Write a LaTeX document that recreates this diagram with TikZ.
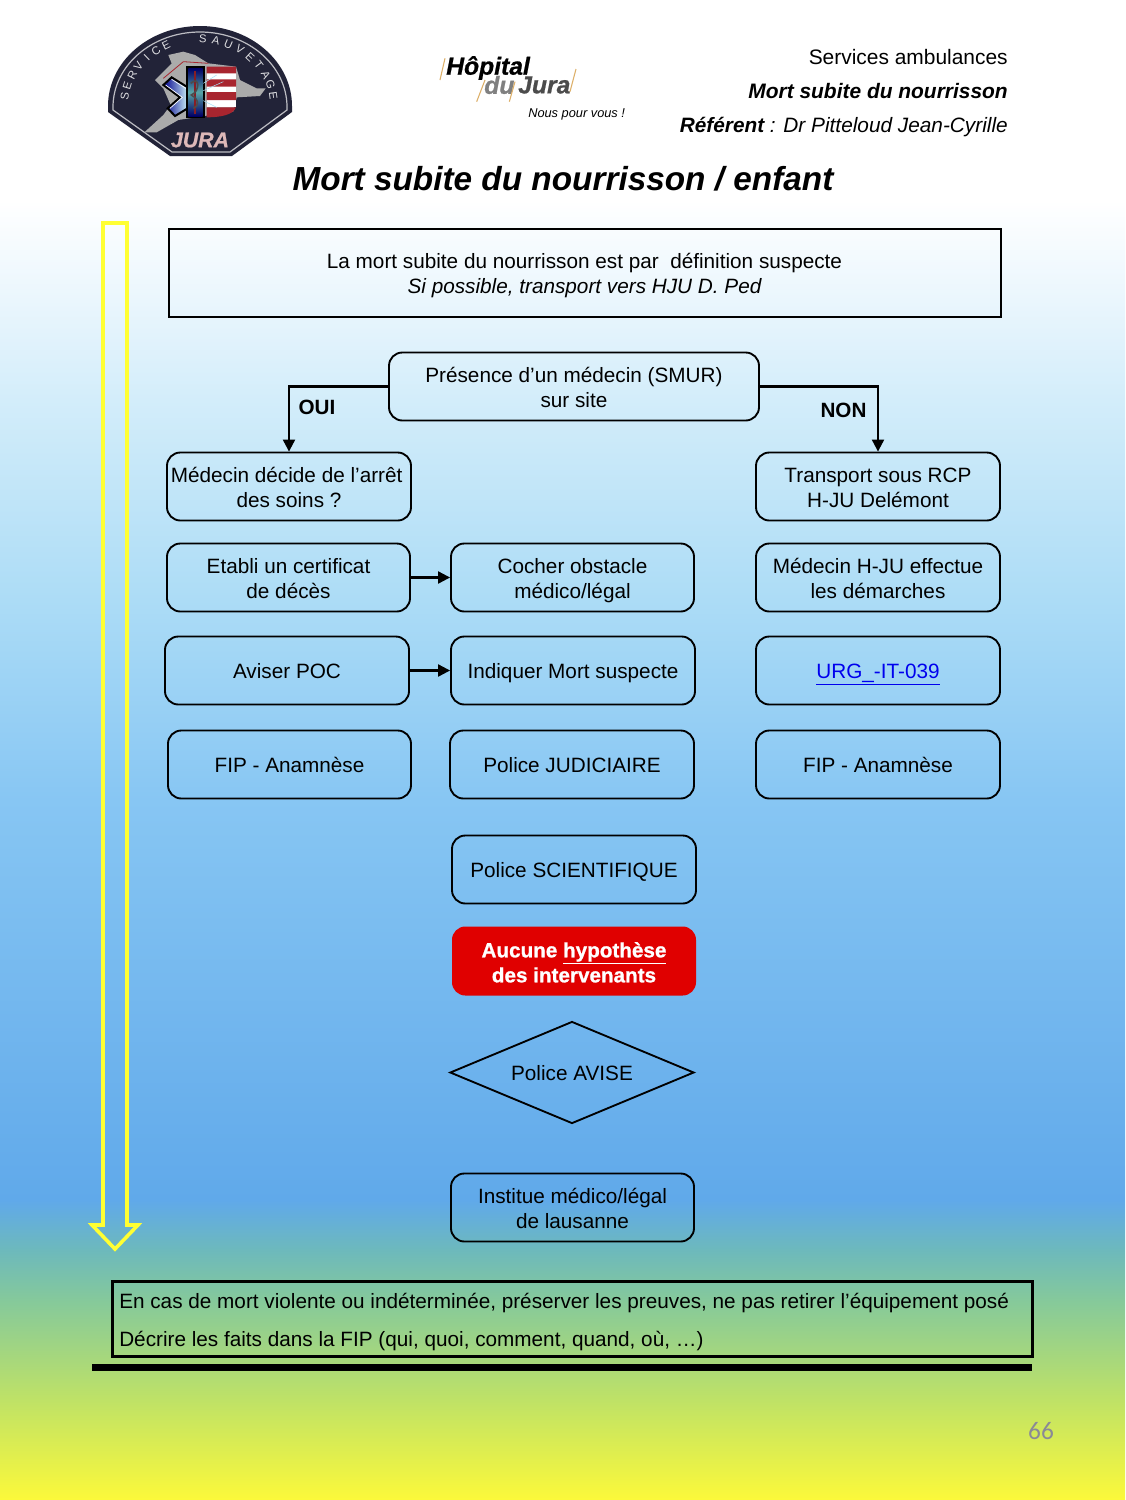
\documentclass[tikz,border=0pt]{standalone}
\usepackage{fontspec}
\setmainfont{Liberation Sans}
\newfontfamily\heavyfam{Liberation Sans}[BoldFeatures={FakeBold=1},BoldItalicFeatures={FakeBold=0.8}]
\newfontfamily\pagefam{Carlito}
\usetikzlibrary{shapes.geometric,arrows.meta,calc}
\definecolor{bga}{HTML}{FCF93A}
\definecolor{bgb}{HTML}{BFE266}
\definecolor{bgc}{HTML}{85C99B}
\definecolor{bgd}{HTML}{6DB9BC}
\definecolor{bge}{HTML}{60A9EA}
\definecolor{bgf}{HTML}{87C6F3}
\definecolor{bgg}{HTML}{ACDCF6}
\definecolor{bgh}{HTML}{D3EDFA}
\definecolor{bgi}{HTML}{EAF6FD}
\definecolor{linkblue}{HTML}{0000EE}
\definecolor{redbox}{HTML}{E00000}
\definecolor{navy}{HTML}{222338}
\definecolor{mapgrey}{HTML}{ABABAB}
\definecolor{shieldred}{HTML}{A8252F}
\definecolor{pagegrey}{HTML}{8A8A96}
\definecolor{arrowyellow}{HTML}{FFFF33}
\definecolor{slashcol}{HTML}{DDB06A}
\definecolor{jurapink}{HTML}{DDB8B8}
\pgfdeclareverticalshading{pagebg}{100bp}{color(0bp)=(bga); color(25bp)=(bga); color(28.33bp)=(bgb); color(31.67bp)=(bgc); color(33.33bp)=(bgd); color(35bp)=(bge); color(48.33bp)=(bgf); color(55bp)=(bgg); color(61.67bp)=(bgh); color(65bp)=(bgi); color(68.33bp)=(white); color(75bp)=(white); color(100bp)=(white)}
\tikzset{
  x=0.75pt,y=-0.75pt,
  flowfont/.style={font=\fontsize{15.55}{18.75}\selectfont},
  oneline/.style={text height=11.8pt,text depth=0pt},
  twoline/.style={text height=31.4pt,text depth=0pt},
  flowbox/.style={draw=black,line width=1.4pt,rounded corners=10pt,align=center,inner sep=0pt,flowfont},
  conn/.style={draw=black,line width=1.6pt,-{Triangle[length=9pt,width=9pt]}},
  lab/.style={font=\fontsize{15.5}{19}\selectfont\bfseries,inner sep=0pt},
  logotxt/.style={inner sep=0pt,anchor=west,font=\heavyfam\fontsize{18.5}{18}\selectfont\bfseries\itshape},
}
\newcommand{\bx}[6]{\node[flowbox,oneline,minimum width=#4*0.75pt,minimum height=#5*0.75pt] (#1) at (#2,#3) {#6};}
\newcommand{\bxt}[6]{\node[flowbox,twoline,minimum width=#4*0.75pt,minimum height=#5*0.75pt] (#1) at (#2,#3) {#6};}
\begin{document}
\begin{tikzpicture}
\useasboundingbox (0,0) rectangle (1125,1500);
\shade[shading=pagebg] (0,0) rectangle (1125,1500);
% police logo
\fill[navy] (108,106) arc[start angle=180,end angle=360,x radius=92,y radius=80] -- (292,112) -- (232,156) -- (170,156) -- (108,112) -- cycle;
\draw[white!70!navy,line width=0.9pt] (113,107) arc[start angle=180,end angle=360,x radius=87,y radius=75] -- (287,110) -- (230,152) -- (172,152) -- (113,110) -- cycle;
\begin{scope}[shift={(100,20)},x=0.25pt,y=-0.25pt]
\fill[mapgrey] (205,105) -- (250,95) -- (285,105) -- (325,130) -- (408,140) -- (420,180) -- (470,205) -- (497,205) -- (480,228) -- (410,232) -- (400,275) -- (300,290) -- (235,300) -- (170,337) -- (133,337) -- (190,285) -- (212,255) -- (190,205) -- (165,180) -- (215,130) -- cycle;
\draw[shieldred,line width=0.6pt] (190,175) -- (250,125) -- (325,130);
\fill[white] (320,140) rectangle (408,262);
\fill[shieldred] (320,140) rectangle (408,160) (320,178) rectangle (408,200) (320,216) rectangle (408,240);
\fill[shieldred] (320,262) -- (408,262) .. controls (400,285) and (360,292) .. (320,292) -- cycle;
\path[draw=black,line width=1.5pt,left color=blue!55!black,right color=cyan!15!white,line join=miter] (215,172) -- (268,205) -- (268,262) -- (225,288) -- (203,265) -- (240,232) -- (190,195) -- cycle;
\draw[white,line width=0.5pt] (215,178) -- (262,208) (197,195) -- (247,232) -- (210,265);
\fill[black] (258,138) rectangle (315,295);
\shade[top color=blue!40!black,bottom color=blue!40!black,middle color=cyan!30!gray] (265,145) rectangle (308,288);
\draw[shieldred!80!black,line width=2.2pt] (285,152) -- (285,282);
\draw[black!70,line width=1.2pt] (272,190) .. controls (300,165) and (300,215) .. (274,225) .. controls (300,240) and (295,260) .. (280,265);
\draw[cyan!35!white,line width=0.4pt] (310,190) -- (350,165) (310,242) -- (350,262) (310,212) -- (370,185);
\end{scope}
\node[inner sep=0pt,text=jurapink,font=\heavyfam\fontsize{16}{16}\selectfont\bfseries\itshape] (jura) at (200,140) {JURA};
\foreach \ch/\a in {S/172,E/163,R/153,V/144,I/134,C/125,E/116,S/87,A/77,U/67,V/57,E/47,T/37,A/27,G/18,E/8}{
  \node[inner sep=0pt,text=white!85!navy,rotate=\a-90,font=\fontsize{8.5}{9}\selectfont] at ({199+75*cos(\a)},{105-66*sin(\a)}) {\ch};
}
% hospital logo
\node[logotxt] (hop) at (446,68) {Hôpital};
\node[logotxt,text=black!50] (du) at (484,85) {du};
\node[logotxt,text=black!70] (ju) at (518,85) {Jura};
\begin{scope}[shift={(430,45)},x=0.25pt,y=-0.25pt]
\draw[slashcol,line width=0.8pt] (45,40) -- (30,105) (165,105) -- (140,170) (255,110) -- (238,170) (438,72) -- (420,140);
\end{scope}
\node[inner sep=0pt,anchor=west,font=\fontsize{9.6}{10}\selectfont\itshape] (nous) at (528,114) {Nous pour vous !};
% header
\node[inner sep=0pt,anchor=base east,font=\fontsize{15.7}{18}\selectfont] (h1) at (1008,64.5) {Services ambulances};
\node[inner sep=0pt,anchor=base east,font=\fontsize{15.7}{18}\selectfont\bfseries\itshape] (h2) at (1008,98) {Mort subite du nourrisson};
\node[inner sep=0pt,anchor=base east,font=\fontsize{15.6}{18}\selectfont\itshape] (h3) at (1008,132) {\textbf{Référent} : Dr Pitteloud Jean-Cyrille};
\node[inner sep=0pt,font=\fontsize{25}{30}\selectfont\bfseries\itshape] (title) at (563,179) {Mort subite du nourrisson / enfant};
% yellow arrow
\draw[arrowyellow,line width=2.7pt,miter limit=10,line join=miter] (103,223) -- (127,223) -- (127,1225) -- (138,1225) -- (115,1249) -- (92,1225) -- (103,1225) -- cycle;
% top box
\node[draw=black,line width=1.5pt,minimum width=832*0.75pt,minimum height=88*0.75pt,align=center,inner sep=0pt,flowfont,twoline] (top) at (584.5,272.5) {La mort subite du nourrisson est par\ \ définition suspecte\\\itshape Si possible, transport vers HJU D. Ped};
% boxes
\bxt{smur}{574}{386.5}{370}{68}{Présence d’un médecin (SMUR)\\sur site}
\bxt{med}{289}{486.5}{244}{68}{Médecin décide de l’arrêt\kern3.5pt\\des soins ?}
\bxt{trans}{878}{486.5}{244}{68}{Transport sous RCP\\H-JU Delémont}
\bxt{cert}{288.5}{577.5}{243}{68}{Etabli un certificat\\de décès}
\bxt{coch}{572.5}{577.5}{243}{68}{Cocher obstacle\\médico/légal}
\bxt{hju}{878}{577.5}{244}{68}{Médecin H-JU effectue\\les démarches}
\bx{poc}{287}{670.5}{244}{68}{Aviser POC}
\bx{ind}{573}{670.5}{244}{68}{Indiquer Mort suspecte}
\bx{urg}{878}{670.5}{244}{68}{\textcolor{linkblue}{\underline{URG\_-IT-039}}}
\bx{fip}{289.5}{764.5}{243}{68}{FIP - Anamnèse}
\bx{jud}{572}{764.5}{244}{68}{Police JUDICIAIRE}
\bx{fipb}{878}{764.5}{244}{68}{FIP - Anamnèse}
\bx{sci}{574}{869.5}{244}{68}{Police SCIENTIFIQUE}
\node[fill=redbox,text=white,rounded corners=10pt,minimum width=244*0.75pt,minimum height=69*0.75pt,align=center,inner sep=0pt,text height=32pt,text depth=0pt,font=\heavyfam\fontsize{15.5}{18.75}\selectfont\bfseries] (hyp) at (574,961) {Aucune \underline{hypothèse}\\des intervenants};
\node[draw=black,line width=1.4pt,diamond,aspect=2.4,minimum width=244*0.75pt,minimum height=102*0.75pt,inner sep=0pt,flowfont,oneline] (avise) at (572,1072.5) {Police AVISE};
\bxt{iml}{572.5}{1207.5}{243}{68}{Institue médico/légal\\de lausanne}
% connectors
\draw[conn] (smur.west) -| (med.north);
\draw[conn] (smur.east) -| (trans.north);
\draw[conn] (cert.east) -- (coch.west);
\draw[conn] (poc.east) -- (ind.west);
\node[lab] (oui) at (317,407) {OUI};
\node[lab] (non) at (843.5,410) {NON};
% bottom box
\node[draw=black,line width=2.8pt,minimum width=920*0.75pt,minimum height=75*0.75pt,inner sep=0pt] (note) at (572.5,1319) {};
\node[inner sep=0pt,anchor=base west,flowfont] (n1) at (119,1308) {En cas de mort violente ou indéterminée, préserver les preuves, ne pas retirer l'équipement posé};
\node[inner sep=0pt,anchor=base west,flowfont] (n2) at (119,1346) {Décrire les faits dans la FIP (qui, quoi, comment, quand, où, …)};
\fill[black] (92,1364) rectangle (1032,1371);
\node[inner sep=0pt,text=pagegrey,font=\pagefam\fontsize{19}{20}\selectfont] (pg) at (1041,1431) {66};
\end{tikzpicture}
\end{document}
